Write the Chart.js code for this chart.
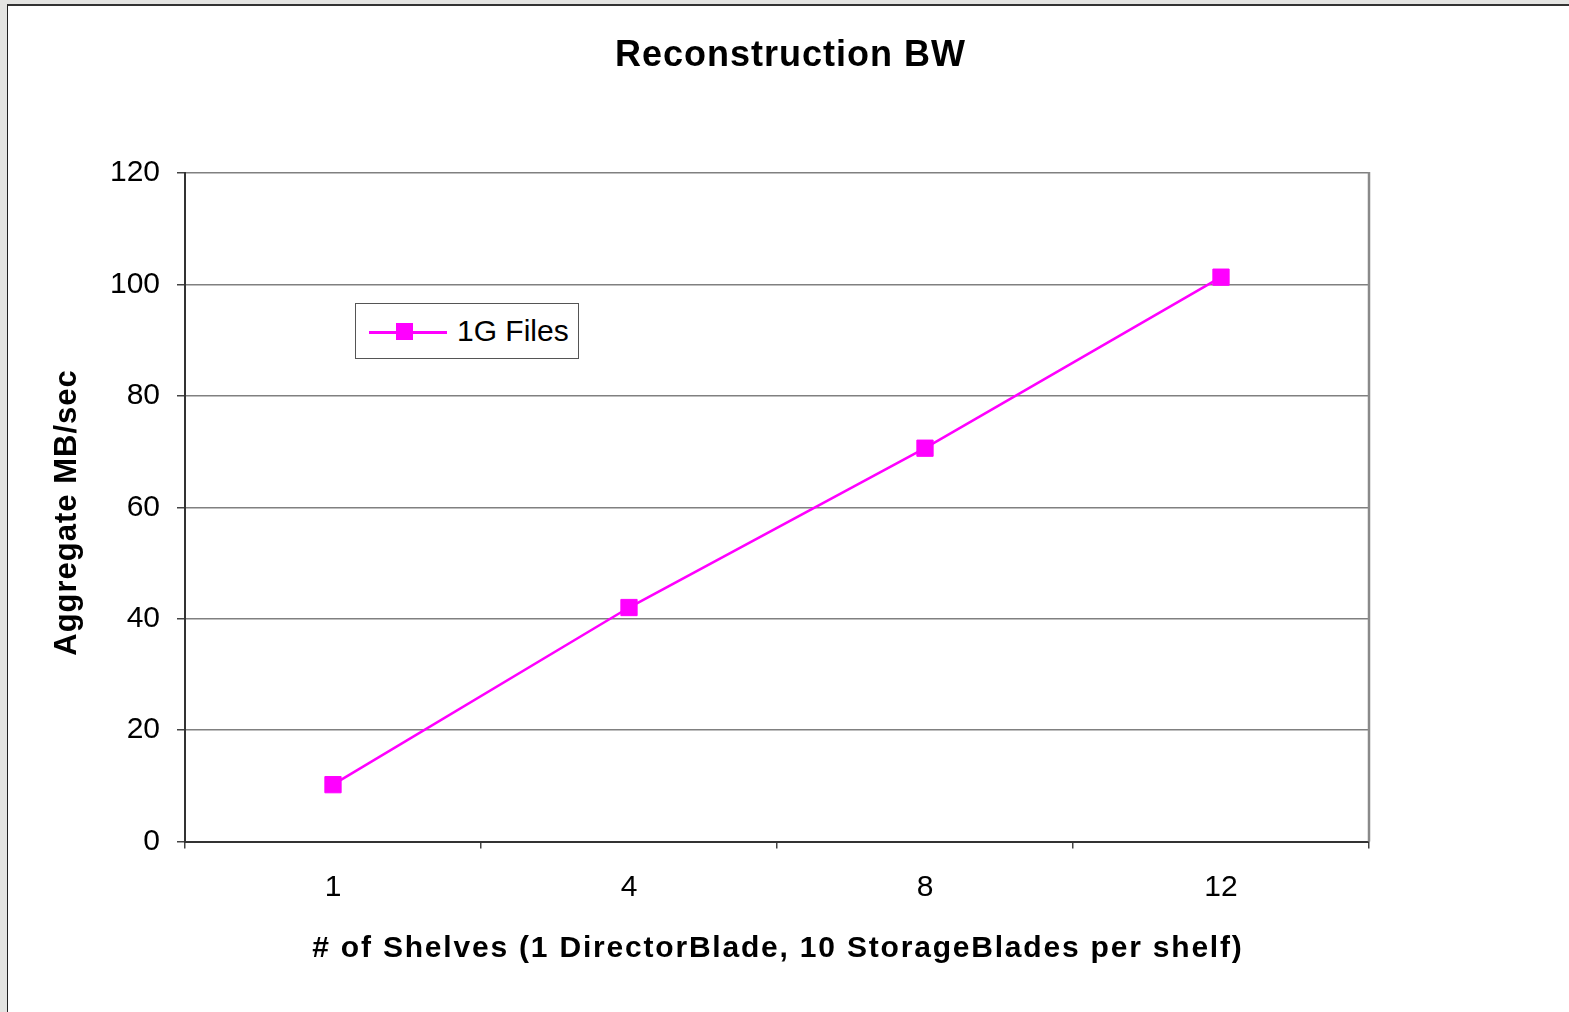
<!DOCTYPE html>
<html>
<head>
<meta charset="utf-8">
<title>Reconstruction BW</title>
<script src="https://cdn.jsdelivr.net/npm/chart.js@4.4.1/dist/chart.umd.min.js"></script>
<style>
    html, body {
        margin: 0;
        padding: 0;
        width: 1569px;
        height: 1012px;
        overflow: hidden;
        background: #e4e4e2;
        font-family: "Liberation Sans", Arial, sans-serif;
    }
    #frame {
        position: absolute;
        left: 7px;
        top: 4px;
        right: 0;
        bottom: 0;
        background: #ffffff;
        border-left: 1.5px solid #222;
        border-top: 2px solid #333;
    }
    #chart {
        position: absolute;
        left: 0;
        top: 0;
    }
    #legend {
        position: absolute;
        left: 355px;
        top: 303px;
        width: 224px;
        height: 56px;
        border: 1px solid #555;
        background: #fff;
        box-sizing: border-box;
    }
    #legend .sym {
        position: absolute;
        left: 13px;
        top: 27px;
        width: 78px;
        height: 2.5px;
    }
    #legend .mark {
        position: absolute;
        left: 40px;
        top: 19px;
        width: 17px;
        height: 17px;
    }
    #legend .txt {
        position: absolute;
        left: 101px;
        top: 10px;
        font-size: 30px;
        line-height: 34px;
        color: #000;
    }
</style>
</head>
<body>
<div id="frame"></div>
<canvas id="chart" width="1569" height="1012"></canvas>
<div id="legend"></div>

<script>
// Veriler
const shelves = ["1", "4", "8", "12"];
const bw1GFiles = [10.2, 42.0, 70.6, 101.3];
const yTicks = [0, 20, 40, 60, 80, 100, 120];

const chartTitle = "Reconstruction BW";
const xTitle = "# of Shelves (1 DirectorBlade, 10 StorageBlades per shelf)";
const yTitle = "Aggregate MB/sec";

const magenta = "#ff00ff";
const fontFamily = "'Liberation Sans', Arial, sans-serif";

// harf aralıklı metin (ortalı)
function drawSpaced(ctx, text, x, y, font, spacing) {
    ctx.font = font;
    ctx.letterSpacing = spacing + "px";
    ctx.fillText(text, x + spacing / 2, y);
    ctx.letterSpacing = "0px";
}

// başlık + eksen başlıkları
const titles = {
    id: "titles",
    afterDraw(chart) {
        const ctx = chart.ctx;
        ctx.save();
        ctx.fillStyle = "#000";
        ctx.textAlign = "center";
        ctx.textBaseline = "middle";

        drawSpaced(ctx, chartTitle, 790, 56, "bold 36px " + fontFamily, 1);
        drawSpaced(ctx, xTitle, 777, 949, "bold 30px " + fontFamily, 1.8);

        ctx.translate(67, 513);
        ctx.rotate(-Math.PI / 2);
        drawSpaced(ctx, yTitle, 0, 0, "bold 31px " + fontFamily, 1);
        ctx.restore();
    }
};

// sağ kenar çizgisi (üst kenarı 120 grid çizgisi zaten çiziyor)
const rightBorder = {
    id: "rightBorder",
    beforeDatasetsDraw(chart) {
        const { ctx, chartArea } = chart;
        ctx.save();
        ctx.strokeStyle = "#8a8a8a";
        ctx.lineWidth = 2.5;
        ctx.beginPath();
        ctx.moveTo(chartArea.right, chartArea.top - 1);
        ctx.lineTo(chartArea.right, chartArea.bottom);
        ctx.stroke();
        ctx.restore();
    }
};

const chart = new Chart(document.getElementById("chart"), {
    type: "line",
    data: {
        labels: shelves,
        datasets: [{
            label: "1G Files",
            data: bw1GFiles,
            borderColor: magenta,
            backgroundColor: magenta,
            borderWidth: 2.5,
            pointStyle: "rect",
            pointRadius: 11.5,
            pointBorderWidth: 1,
            pointBackgroundColor: magenta,
            pointBorderColor: magenta,
            tension: 0,
            fill: false
        }]
    },
    options: {
        responsive: false,
        animation: false,
        devicePixelRatio: 1,
        layout: {
            padding: { left: 0, top: 173, right: 200, bottom: 0 }
        },
        plugins: {
            legend: { display: false },
            tooltip: { enabled: false },
            title: { display: false }
        },
        scales: {
            x: {
                type: "category",
                offset: true,
                afterFit(scale) {
                    scale.height = 170.5;
                },
                border: { display: true, color: "#333", width: 2 },
                grid: {
                    offset: true,
                    drawOnChartArea: false,
                    drawTicks: true,
                    tickLength: 7,
                    tickColor: "#444",
                    lineWidth: 1.5
                },
                ticks: {
                    color: "#000",
                    padding: 21,
                    font: { family: fontFamily, size: 30 }
                }
            },
            y: {
                min: 0,
                max: 120,
                afterFit(scale) {
                    scale.width = 185;
                },
                afterBuildTicks(scale) {
                    scale.ticks = yTicks.map(v => ({ value: v }));
                },
                border: { display: true, color: "#333", width: 2 },
                grid: {
                    color: "#808080",
                    lineWidth: 1.5,
                    drawTicks: true,
                    tickLength: 8,
                    tickColor: "#444"
                },
                ticks: {
                    color: "#000",
                    padding: 17,
                    font: { family: fontFamily, size: 30 }
                }
            }
        }
    },
    plugins: [rightBorder, titles]
});

// Legend kutusu: veri setinin kendi renk ve etiketinden
function buildLegend(chart) {
    const box = document.getElementById("legend");
    box.innerHTML = "";
    chart.data.datasets.forEach(ds => {
        const line = document.createElement("div");
        line.className = "sym";
        line.style.background = ds.borderColor;
        const mark = document.createElement("div");
        mark.className = "mark";
        mark.style.background = ds.pointBackgroundColor;
        const txt = document.createElement("div");
        txt.className = "txt";
        txt.textContent = ds.label;
        box.appendChild(line);
        box.appendChild(mark);
        box.appendChild(txt);
    });
}
buildLegend(chart);
</script>
</body>
</html>
